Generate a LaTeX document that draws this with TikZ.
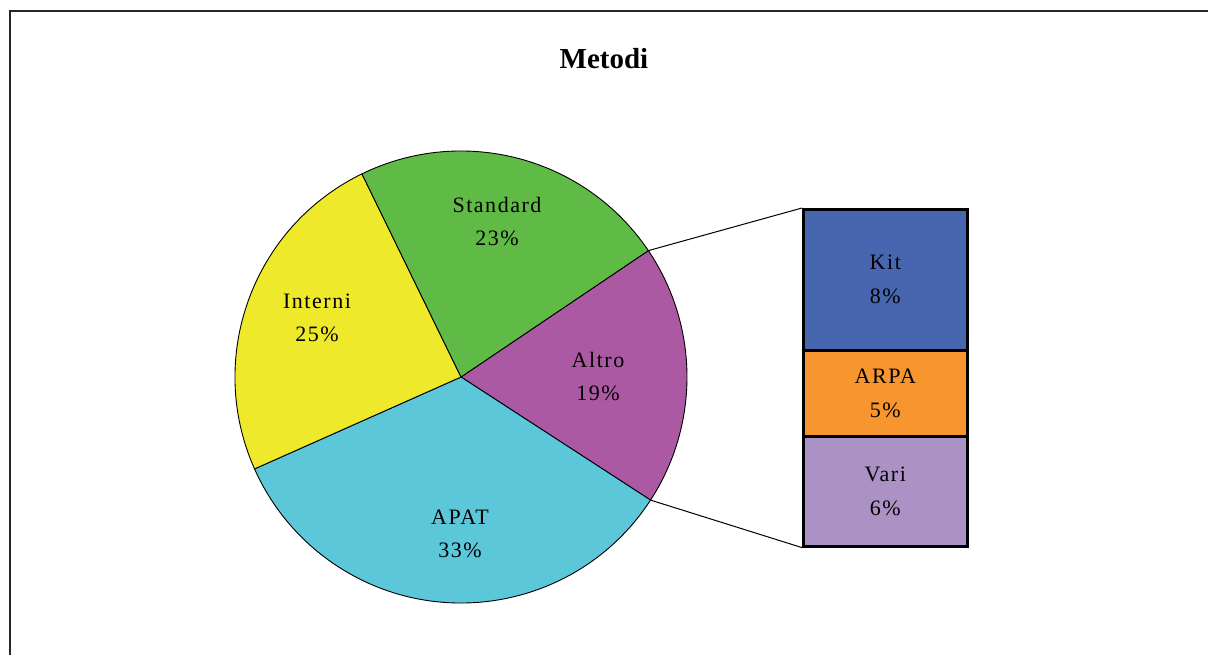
\documentclass[tikz,border=0pt]{standalone}
\usepackage{fontspec}
\setmainfont{Liberation Serif}
\newfontfamily\spacedfont[LetterSpace=7]{Liberation Serif}
\usetikzlibrary{calc}
\definecolor{cgreen}{RGB}{95,186,70}
\definecolor{cyellow}{RGB}{238,233,42}
\definecolor{ccyan}{RGB}{93,199,218}
\definecolor{cpurple}{RGB}{171,89,163}
\definecolor{cblue}{RGB}{72,102,175}
\definecolor{corange}{RGB}{247,150,46}
\definecolor{clav}{RGB}{172,145,196}
\tikzset{
  slice/.style={draw=black, line width=0.9pt, line join=round},
  lbl/.style={align=center, font=\spacedfont\fontsize{22}{33}\selectfont, inner sep=0pt},
  barbox/.style={draw=black, line width=2.6pt, minimum width=164pt, inner sep=0pt, align=center, font=\spacedfont\fontsize{22}{34}\selectfont, anchor=north west},
  conn/.style={draw=black, line width=1pt},
  frame/.style={draw=black!85, line width=2pt}
}
\begin{document}
\begin{tikzpicture}[x=1pt,y=-1pt]
\useasboundingbox (0,0) rectangle (1208,655);
\fill[white] (0,0) rectangle (1208,655);
% frame
\draw[frame] (10,660) -- (10,11) -- (1215,11);
% title
\node[font=\fontsize{29}{34}\selectfont\bfseries, inner sep=0pt] (title) at (604,59) {Metodi};
% pie
\coordinate (c) at (461,377);
\def\R{226}
\draw[slice, fill=cpurple] (c) -- ++(-34:\R) arc[start angle=-34, end angle=33, radius=\R] -- cycle;
\draw[slice, fill=ccyan] (c) -- ++(33:\R) arc[start angle=33, end angle=156, radius=\R] -- cycle;
\draw[slice, fill=cyellow] (c) -- ++(156:\R) arc[start angle=156, end angle=244, radius=\R] -- cycle;
\draw[slice, fill=cgreen] (c) -- ++(-116:\R) arc[start angle=-116, end angle=-34, radius=\R] -- cycle;
\coordinate (pu) at ($(c)+(-34:\R)$);
\coordinate (pl) at ($(c)+(33:\R)$);
% pie labels
\node[lbl] (std) at (497,222) {Standard\\23\%};
\node[lbl] (int) at (317,318) {Interni\\25\%};
\node[lbl] (alt) at (598,377) {Altro\\19\%};
\node[lbl] (apat) at (460,534) {APAT\\33\%};
% bar
\node[barbox, fill=cblue, minimum height=141pt] (kit) at (802,208) {Kit\\8\%};
\node[barbox, fill=corange, minimum height=86pt] (arpa) at (802,349) {ARPA\\5\%};
\node[barbox, fill=clav, minimum height=110pt] (vari) at (802,435) {Vari\\6\%};
% connectors
\draw[conn] (pu) -- (kit.north west);
\draw[conn] (pl) -- (vari.south west);
\end{tikzpicture}
\end{document}
